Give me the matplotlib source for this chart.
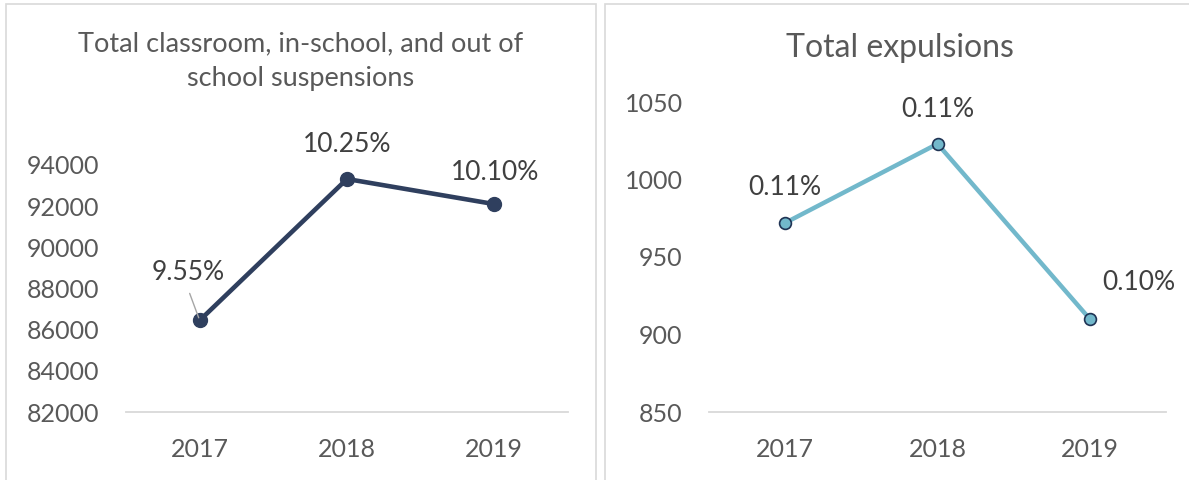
import matplotlib
matplotlib.use('Agg')
import matplotlib.pyplot as plt
from matplotlib.patches import Rectangle

# data
years = ['2017', '2018', '2019']
suspensions = [86450, 93320, 92100]
suspension_labels = ['9.55%', '10.25%', '10.10%']
expulsions = [972, 1023, 910]
expulsion_labels = ['0.11%', '0.11%', '0.10%']

plt.rcParams['font.family'] = ['Lato', 'DejaVu Sans']

W, H = 1189, 480
fig = plt.figure(figsize=(W / 100, H / 100), dpi=100)
fig.patch.set_facecolor('white')

# panel borders (Excel chart frames)
for x0, x1 in [(6, 596), (605, 1195)]:
    fig.patches.append(Rectangle((x0 / W, -0.02), (x1 - x0) / W, (H - 4) / H + 0.02,
                                 transform=fig.transFigure, fill=False,
                                 edgecolor='#d9d9d9', linewidth=1.2))

TICK_C = '#595959'
LBL_C = '#404040'


def style(ax):
    for s in ['top', 'right', 'left']:
        ax.spines[s].set_visible(False)
    ax.spines['bottom'].set_color('#d9d9d9')
    ax.spines['bottom'].set_linewidth(1.3)
    ax.tick_params(axis='both', length=0, colors=TICK_C, labelsize=18)
    ax.tick_params(axis='y', pad=19)
    ax.tick_params(axis='x', pad=19)
    ax.set_xlim(-0.5, 2.5)
    ax.set_xticks(range(len(years)))
    ax.set_xticklabels(years)


x = list(range(len(years)))

# left chart
ax1 = fig.add_axes([126 / W, 68 / H, 442 / W, 247 / H])
ax1.plot(x, suspensions, color='#2f3f5e', linewidth=3.3, marker='o',
         markersize=10, markerfacecolor='#2f3f5e', markeredgecolor='#2f3f5e',
         solid_capstyle='round')
ax1.set_ylim(82000, 94000)
ax1.set_yticks(range(82000, 94001, 2000))
style(ax1)
offs1 = [(-11, 48), (0, 34), (1, 32)]
for i, (v, t) in enumerate(zip(suspensions, suspension_labels)):
    ax1.annotate(t, (i, v), xytext=offs1[i], textcoords='offset pixels',
                 ha='center', va='center', fontsize=19, color=LBL_C)
# leader line for 2017 label
ax1.annotate('', (0, suspensions[0]), xytext=(-10, 27), textcoords='offset pixels',
             arrowprops=dict(arrowstyle='-', color='#a6a6a6', linewidth=1,
                             shrinkA=0, shrinkB=2))
fig.text(301 / W, 1 - 51 / H, 'Total classroom, in-school, and out of',
         ha='center', va='baseline', fontsize=19.5, color=TICK_C)
fig.text(301 / W, 1 - 86 / H, 'school suspensions',
         ha='center', va='baseline', fontsize=19.5, color=TICK_C)

# right chart
ax2 = fig.add_axes([709 / W, 68 / H, 457 / W, 310 / H])
ax2.plot(x, expulsions, color='#72b8cb', linewidth=3.2, marker='o',
         markersize=8.5, markerfacecolor='#72b8cb', markeredgecolor='#1f3354',
         markeredgewidth=1.2)
ax2.set_ylim(850, 1050)
ax2.set_yticks(range(850, 1051, 50))
style(ax2)
offs2 = [(0, 35), (0, 34), (49, 36)]
for i, (v, t) in enumerate(zip(expulsions, expulsion_labels)):
    ax2.annotate(t, (i, v), xytext=offs2[i], textcoords='offset pixels',
                 ha='center', va='center', fontsize=19, color=LBL_C)
fig.text(900 / W, 1 - 57 / H, 'Total expulsions', ha='center', va='baseline',
         fontsize=23, color=TICK_C)

fig.savefig('out.png', dpi=100, facecolor='white')
